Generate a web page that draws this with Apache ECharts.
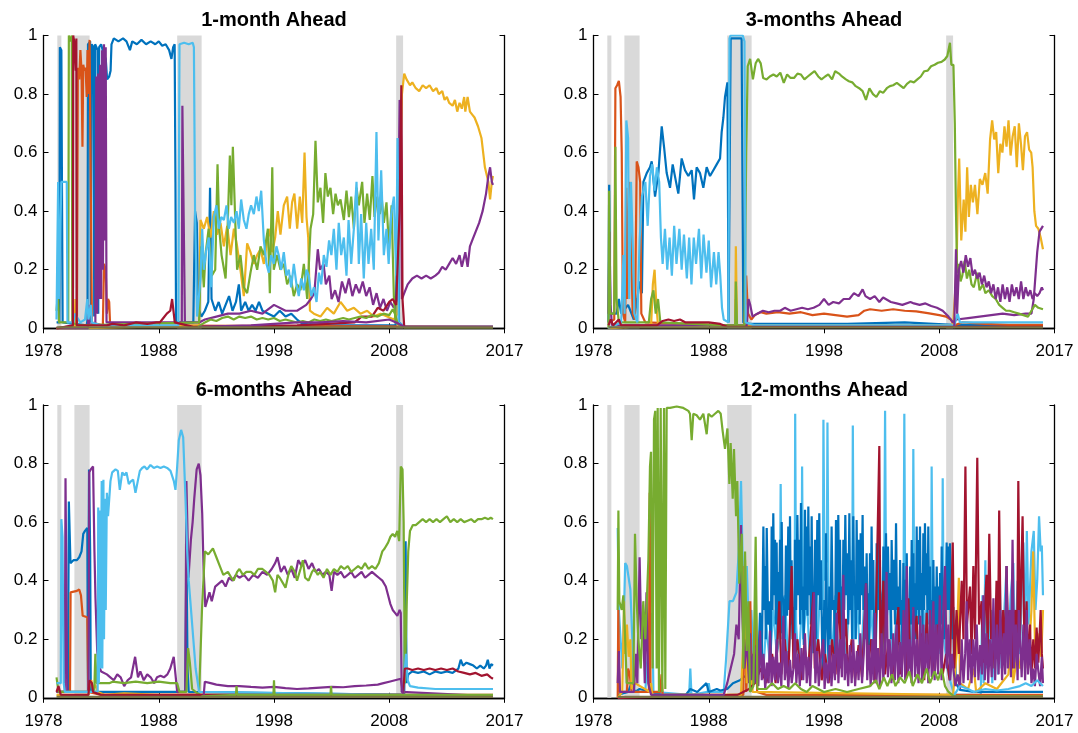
<!DOCTYPE html>
<html><head><meta charset="utf-8">
<script src="https://cdn.jsdelivr.net/npm/echarts@6/dist/echarts.min.js"></script>
<style>html,body{margin:0;padding:0;background:#fff}#c{width:1078px;height:733px}</style>
</head><body><div id="c"></div>
<script>
const titles = ['1-month Ahead','3-months Ahead','6-months Ahead','12-months Ahead'];
const xTickValues = [1978,1988,1998,2008,2018];
const xTickLabels = ['1978','1988','1998','2008','2017'];
const recessions = [[1979.2,1979.55],[1980.68,1982.0],[1989.6,1991.72],[2008.6,2009.2]];

// ---------- Panel 1: 1-month ahead (flat pairs: year, probability) ----------
const p1_blue = [1979.13,0.02,1979.38,0.02,1979.42,0.96,1979.55,0.95,1979.6,0.5,1979.66,0.02,1981.75,0.01,1981.82,0.03,1981.86,0.97,1982.05,0.98,1982.1,0.02,1982.18,0.97,1982.35,0.96,1982.4,0.04,1982.48,0.97,1982.7,0.95,1982.75,0.05,1982.83,0.96,1983.0,0.97,1983.2,0.94,1983.4,0.92,1983.52,0.85,1983.7,0.86,1983.82,0.88,1983.9,0.97,1984.1,0.99,1984.5,0.98,1984.9,0.99,1985.2,0.98,1985.5,0.95,1985.7,0.98,1986.1,0.97,1986.5,0.985,1986.9,0.97,1987.3,0.98,1987.7,0.97,1988.0,0.98,1988.3,0.965,1988.6,0.97,1988.9,0.95,1989.1,0.92,1989.25,0.96,1989.38,0.97,1989.45,0.5,1989.5,0.02,1991.0,0.02,1991.15,0.4,1991.3,0.36,1991.42,0.07,1991.7,0.04,1992.0,0.06,1992.3,0.09,1992.45,0.48,1992.58,0.1,1992.9,0.06,1993.2,0.09,1993.5,0.05,1993.8,0.08,1994.1,0.11,1994.4,0.06,1994.7,0.09,1994.95,0.15,1995.15,0.06,1995.5,0.09,1995.8,0.06,1996.1,0.08,1996.4,0.06,1996.7,0.09,1997.0,0.06,1997.5,0.05,1998.0,0.04,1998.5,0.06,1999.0,0.04,1999.5,0.05,2000.0,0.03,2000.5,0.015,2003,0.01,2006,0.01,2008.55,0.01,2008.75,0.45,2008.85,0.02,2009.3,0.005,2017.0,0.005];
const p1_orange = [1979.13,0.0,1980.9,0.01,1980.98,0.89,1981.1,0.85,1981.2,0.95,1981.3,0.88,1981.38,0.62,1981.45,0.9,1981.55,0.88,1981.65,0.89,1981.75,0.79,1981.82,0.95,1981.9,0.8,1982.0,0.985,1982.14,0.99,1982.2,0.02,1983.15,0.01,1983.25,0.22,1983.4,0.2,1983.5,0.05,1983.6,0.1,1983.7,0.09,1983.78,0.01,2017,0.005];
const p1_yellow = [1979.13,0.0,1980.7,0.0,1980.77,0.1,1980.82,0.0,1991.5,0.01,1991.62,0.37,1991.91,0.34,1992.2,0.38,1992.49,0.31,1992.78,0.4,1993.07,0.32,1993.36,0.36,1993.65,0.28,1993.94,0.35,1994.23,0.25,1994.52,0.34,1994.8,0.28,1995.09,0.2,1995.38,0.11,1995.67,0.29,1995.96,0.26,1996.25,0.22,1996.54,0.25,1996.83,0.27,1997.12,0.22,1997.41,0.3,1997.64,0.34,1997.85,0.26,1998.1,0.31,1998.33,0.4,1998.56,0.32,1998.85,0.42,1999.14,0.45,1999.37,0.34,1999.57,0.43,1999.77,0.46,2000.01,0.34,2000.24,0.45,2000.45,0.36,2000.65,0.6,2000.82,0.38,2000.97,0.31,2001.12,0.06,2001.46,0.05,2002.03,0.04,2002.61,0.07,2003.19,0.05,2003.77,0.09,2004.35,0.06,2004.93,0.07,2005.5,0.05,2006.08,0.06,2006.66,0.04,2007.24,0.05,2007.82,0.04,2008.4,0.03,2008.7,0.05,2008.9,0.5,2009.1,0.8,2009.3,0.87,2009.5,0.85,2009.8,0.83,2010.0,0.84,2010.3,0.82,2010.6,0.81,2010.9,0.83,2011.2,0.82,2011.5,0.83,2011.8,0.81,2012.1,0.82,2012.3,0.8,2012.6,0.81,2012.8,0.78,2013.0,0.79,2013.2,0.77,2013.5,0.76,2013.7,0.78,2013.9,0.74,2014.1,0.77,2014.3,0.75,2014.5,0.79,2014.6,0.74,2014.8,0.79,2015.0,0.74,2015.2,0.73,2015.4,0.72,2015.7,0.69,2016.0,0.65,2016.3,0.55,2016.6,0.5,2016.75,0.44,2016.9,0.5,2017.0,0.52];
const p1_purple = [1979.13,0.0,1981.85,0.0,1981.9,0.08,1982.0,0.01,1982.5,0.02,1982.58,0.86,1982.66,0.05,1982.75,0.87,1982.83,0.1,1982.91,0.9,1983.0,0.1,1983.08,0.95,1983.16,0.2,1983.25,0.97,1983.33,0.3,1983.4,0.96,1983.47,0.02,1990.0,0.02,1990.05,0.76,1990.22,0.76,1990.27,0.02,1991.5,0.02,1992.0,0.03,1993,0.04,1994,0.05,1995,0.05,1996,0.06,1997,0.05,1998,0.08,1999,0.06,2000,0.06,2000.8,0.08,2001.2,0.1,2001.5,0.12,2001.8,0.27,2002.0,0.2,2002.3,0.22,2002.5,0.15,2002.8,0.18,2003.0,0.1,2003.3,0.13,2003.6,0.09,2003.9,0.16,2004.2,0.12,2004.5,0.17,2004.8,0.11,2005.1,0.15,2005.4,0.12,2005.7,0.16,2006.0,0.11,2006.3,0.14,2006.6,0.08,2006.9,0.12,2007.2,0.07,2007.5,0.1,2007.8,0.06,2008.1,0.09,2008.4,0.07,2008.7,0.1,2008.9,0.78,2009.0,0.75,2009.1,0.1,2009.3,0.12,2009.6,0.15,2010.0,0.17,2010.4,0.18,2010.8,0.17,2011.2,0.18,2011.6,0.17,2012.0,0.18,2012.3,0.19,2012.6,0.21,2012.9,0.2,2013.2,0.22,2013.5,0.24,2013.8,0.22,2014.1,0.25,2014.3,0.21,2014.6,0.26,2014.8,0.21,2015.0,0.28,2015.2,0.3,2015.5,0.33,2015.8,0.36,2016.1,0.4,2016.4,0.46,2016.6,0.52,2016.75,0.55,2016.9,0.5,2017.0,0.49];
const p1_green = [1979.13,0.06,1979.25,0.12,1979.35,0.02,1980.15,0.02,1980.2,1.0,1980.32,0.98,1980.45,1.0,1980.5,0.02,1981.0,0.01,1991.5,0.02,1991.68,0.28,1991.91,0.14,1992.05,0.25,1992.33,0.34,1992.6,0.18,1992.9,0.2,1993.1,0.56,1993.25,0.34,1993.45,0.25,1993.8,0.17,1993.94,0.3,1994.17,0.59,1994.3,0.42,1994.43,0.62,1994.66,0.34,1994.8,0.2,1995.09,0.25,1995.38,0.14,1995.67,0.12,1995.96,0.19,1996.25,0.25,1996.54,0.2,1996.83,0.28,1997.12,0.25,1997.47,0.34,1997.64,0.12,1997.85,0.55,1997.98,0.2,1998.27,0.25,1998.56,0.2,1998.85,0.22,1999.14,0.15,1999.43,0.18,1999.72,0.11,2000.01,0.15,2000.3,0.13,2000.59,0.22,2000.88,0.1,2001.17,0.34,2001.4,0.39,2001.6,0.64,2001.8,0.43,2002.03,0.48,2002.26,0.36,2002.46,0.53,2002.67,0.45,2002.9,0.48,2003.13,0.39,2003.34,0.46,2003.54,0.42,2003.77,0.44,2004.06,0.37,2004.29,0.47,2004.5,0.38,2004.7,0.45,2004.93,0.34,2005.16,0.48,2005.36,0.42,2005.65,0.5,2005.85,0.36,2006.08,0.46,2006.31,0.37,2006.54,0.52,2006.72,0.38,2006.95,0.45,2007.18,0.39,2007.36,0.44,2007.53,0.36,2007.76,0.43,2007.99,0.27,2008.2,0.42,2008.4,0.11,2008.55,0.02,2009.3,0.003,2017,0.003];
const p1_lblue = [1979.13,0.03,1979.2,0.03,1979.27,0.5,1979.33,0.1,1979.5,0.1,1979.55,0.5,1980.02,0.5,1980.08,0.02,1980.6,0.02,1980.7,0.05,1981.2,0.02,1981.6,0.03,1981.8,0.1,1981.9,0.03,1982.1,0.08,1982.2,0.02,1983.0,0.01,1989.7,0.01,1989.8,0.97,1990.2,0.975,1990.6,0.97,1990.95,0.975,1991.05,0.96,1991.15,0.4,1991.33,0.04,1991.62,0.17,1991.77,0.34,1991.91,0.2,1992.14,0.27,1992.34,0.31,1992.55,0.14,1992.78,0.38,1993.01,0.42,1993.21,0.34,1993.42,0.38,1993.65,0.37,1993.88,0.42,1994.08,0.34,1994.28,0.38,1994.52,0.36,1994.75,0.4,1994.95,0.34,1995.15,0.44,1995.38,0.37,1995.61,0.34,1995.81,0.39,1996.01,0.42,1996.25,0.39,1996.48,0.45,1996.68,0.4,1996.89,0.47,1997.12,0.3,1997.35,0.22,1997.55,0.19,1997.75,0.25,1997.98,0.22,1998.21,0.28,1998.41,0.25,1998.62,0.2,1998.85,0.26,1999.08,0.18,1999.28,0.2,1999.49,0.14,1999.72,0.22,1999.95,0.15,2000.15,0.11,2000.36,0.17,2000.59,0.13,2000.82,0.2,2001.02,0.18,2001.23,0.11,2001.46,0.14,2001.69,0.09,2001.9,0.19,2002.1,0.15,2002.32,0.25,2002.55,0.21,2002.78,0.3,2002.98,0.25,2003.19,0.34,2003.42,0.2,2003.62,0.36,2003.83,0.25,2004.06,0.31,2004.29,0.18,2004.47,0.37,2004.7,0.22,2004.93,0.34,2005.16,0.5,2005.36,0.22,2005.56,0.39,2005.79,0.17,2006.0,0.36,2006.2,0.22,2006.43,0.34,2006.66,0.2,2006.89,0.67,2007.06,0.3,2007.3,0.54,2007.53,0.25,2007.76,0.34,2007.95,0.22,2008.17,0.39,2008.4,0.45,2008.6,0.18,2008.72,0.65,2008.82,0.02,2009.3,0.005,2017,0.005];
const p1_red = [1979.13,0.0,1980.55,0.01,1980.58,1.0,1980.7,0.97,1980.8,0.88,1980.85,0.99,1980.88,0.01,1983.5,0.01,1984,0.015,1985,0.01,1986,0.02,1987,0.015,1987.8,0.02,1988.1,0.02,1988.4,0.035,1988.7,0.05,1989.0,0.06,1989.16,0.1,1989.31,0.1,1989.39,0.02,1991,0.005,2000,0.01,2005,0.02,2005.6,0.04,2006.5,0.04,2007,0.07,2007.5,0.06,2008,0.09,2008.3,0.1,2008.6,0.08,2008.9,0.4,2009.05,0.83,2009.15,0.1,2009.3,0.005,2017,0.005];
const p1_green2 = [1991.4,0.005,1992,0.02,1992.5,0.03,1993,0.025,1993.5,0.035,1994,0.04,1994.5,0.03,1995,0.04,1995.5,0.035,1996,0.04,1996.5,0.03,1997,0.035,1997.5,0.03,1998,0.035,1998.5,0.025,1999,0.03,1999.5,0.025,2000,0.02,2000.5,0.025,2001,0.02,2001.5,0.03,2002,0.025,2002.5,0.03,2003,0.025,2003.5,0.03,2004,0.035,2004.5,0.03,2005,0.035,2005.5,0.04,2006,0.035,2006.5,0.045,2007,0.04,2007.5,0.05,2008,0.045,2008.3,0.065,2008.5,0.05,2008.7,0.02,2009,0.003];
const p1_purple2 = [1991.5,0.005,1996,0.01,1998,0.015,2000,0.02,2002,0.02,2004,0.025,2006,0.02,2008,0.03,2008.6,0.02,2009.3,0.005,2017,0.005];

// ---------- Panel 2: 3-months ahead ----------
const p2_blue = [1979.3,0.02,1979.36,0.49,1979.45,0.05,1980.0,0.05,1980.2,0.1,1980.4,0.05,1981.0,0.08,1981.5,0.03,1981.8,0.1,1982.0,0.16,1982.2,0.12,1982.33,0.5,1982.62,0.53,1982.9,0.55,1983.05,0.57,1983.34,0.45,1983.63,0.53,1983.92,0.69,1984.12,0.62,1984.35,0.53,1984.64,0.48,1984.87,0.56,1985.16,0.5,1985.36,0.46,1985.65,0.58,1985.94,0.54,1986.23,0.52,1986.52,0.54,1986.72,0.44,1986.95,0.55,1987.24,0.53,1987.53,0.48,1987.82,0.55,1988.11,0.52,1988.4,0.54,1988.69,0.56,1988.98,0.58,1989.12,0.67,1989.27,0.72,1989.41,0.79,1989.62,0.84,1989.72,0.02,1989.9,0.99,1990.85,0.99,1991.0,0.02,1991.5,0.015,2000,0.015,2005,0.02,2009.2,0.012,2017,0.01];
const p2_orange = [1979.3,0.02,1979.8,0.03,1979.9,0.82,1980.05,0.83,1980.2,0.845,1980.35,0.79,1980.45,0.6,1980.55,0.05,1980.75,0.02,1980.85,0.48,1980.95,0.1,1981.1,0.5,1981.25,0.3,1981.4,0.05,1981.6,0.03,1981.75,0.57,1981.9,0.55,1982.05,0.5,1982.15,0.05,1982.5,0.02,1989.5,0.01,1990.3,0.01,1990.35,0.1,1990.45,0.01,1991.1,0.01,1991.25,0.18,1991.4,0.05,1991.7,0.03,1992.0,0.045,1992.5,0.055,1993,0.05,1994,0.055,1995,0.05,1996,0.055,1997,0.045,1998,0.05,1999,0.045,2000,0.04,2001,0.045,2001.5,0.06,2002,0.065,2003,0.06,2004,0.065,2005,0.06,2006,0.058,2007,0.052,2008,0.045,2008.6,0.04,2009.0,0.03,2009.3,0.01,2010,0.02,2012,0.015,2014,0.012,2017,0.012];
const p2_yellow = [1979.3,0.0,1983.0,0.01,1983.15,0.15,1983.3,0.2,1983.45,0.08,1983.6,0.01,1990.3,0.01,1990.35,0.28,1990.45,0.01,2009.2,0.01,2009.5,0.2,2009.61,0.44,2009.73,0.58,2009.91,0.3,2010.12,0.44,2010.27,0.33,2010.42,0.55,2010.57,0.38,2010.74,0.49,2010.92,0.43,2011.1,0.49,2011.31,0.39,2011.52,0.51,2011.75,0.49,2011.99,0.53,2012.2,0.46,2012.41,0.645,2012.59,0.71,2012.77,0.645,2012.94,0.67,2013.12,0.53,2013.3,0.63,2013.48,0.6,2013.66,0.69,2013.84,0.62,2014.01,0.71,2014.19,0.59,2014.37,0.656,2014.55,0.69,2014.73,0.55,2014.91,0.7,2015.09,0.63,2015.26,0.54,2015.44,0.656,2015.62,0.67,2015.8,0.61,2015.98,0.6,2016.1,0.55,2016.25,0.4,2016.4,0.35,2016.6,0.34,2016.8,0.31,2017.0,0.27];
const p2_purple = [1979.3,0.05,1979.38,0.33,1979.48,0.08,1979.6,0.01,1991.3,0.01,1991.45,0.1,1991.6,0.08,1991.8,0.04,1992.2,0.05,1992.7,0.06,1993.2,0.055,1993.7,0.06,1994.2,0.06,1994.6,0.07,1995.1,0.06,1995.6,0.065,1996.1,0.07,1996.6,0.065,1997.1,0.07,1997.6,0.08,1998.0,0.1,1998.4,0.08,1998.8,0.09,1999.3,0.085,1999.7,0.1,2000.2,0.1,2000.6,0.12,2001.0,0.11,2001.35,0.133,2001.6,0.11,2002.0,0.1,2002.4,0.11,2002.8,0.09,2003.13,0.105,2003.8,0.09,2004.3,0.085,2004.8,0.08,2005.5,0.09,2005.8,0.085,2006.3,0.08,2006.8,0.085,2007.3,0.076,2007.8,0.07,2008.3,0.06,2008.8,0.04,2009.2,0.02,2009.5,0.03,2010.5,0.035,2011.5,0.04,2012.5,0.045,2013.5,0.05,2014.5,0.045,2015.5,0.05,2016.0,0.05,2016.2,0.1,2016.5,0.26,2016.7,0.33,2017.0,0.35];
const p2_purple2 = [2009.3,0.0,2009.45,0.27,2009.55,0.05,2009.7,0.2,2009.9,0.23,2010.1,0.19,2010.3,0.25,2010.5,0.21,2010.7,0.24,2010.9,0.18,2011.1,0.2,2011.3,0.17,2011.5,0.19,2011.7,0.15,2011.9,0.18,2012.1,0.14,2012.3,0.16,2012.5,0.12,2012.7,0.15,2012.9,0.1,2013.1,0.14,2013.3,0.09,2013.5,0.15,2013.7,0.1,2013.9,0.14,2014.1,0.09,2014.3,0.15,2014.5,0.11,2014.7,0.14,2014.9,0.1,2015.1,0.16,2015.3,0.1,2015.5,0.14,2015.7,0.11,2015.9,0.13,2016.1,0.1,2016.3,0.12,2016.5,0.11,2016.7,0.12,2016.9,0.14,2017.0,0.13];
const p2_green = [1979.3,0.0,1979.35,0.47,1979.45,0.05,1979.8,0.05,1979.9,0.62,1980.0,0.1,1980.2,0.02,1982.8,0.02,1983.0,0.1,1983.2,0.13,1983.4,0.05,1983.6,0.1,1983.8,0.02,1989.5,0.01,1990.3,0.01,1990.35,0.16,1990.45,0.01,1991.1,0.01,1991.25,0.6,1991.38,0.895,1991.59,0.92,1991.83,0.85,1992.07,0.905,1992.28,0.92,1992.51,0.905,1992.72,0.855,1993.02,0.85,1993.3,0.86,1993.61,0.867,1993.9,0.86,1994.21,0.873,1994.51,0.838,1994.8,0.867,1995.1,0.855,1995.4,0.855,1995.7,0.87,1995.99,0.867,1996.3,0.85,1996.59,0.86,1996.9,0.87,1997.18,0.878,1997.5,0.86,1997.78,0.85,1998.1,0.86,1998.37,0.867,1998.7,0.85,1998.97,0.878,1999.3,0.87,1999.56,0.86,1999.9,0.85,2000.16,0.844,2000.45,0.84,2000.75,0.827,2001.05,0.82,2001.35,0.81,2001.64,0.78,2001.94,0.82,2002.25,0.8,2002.54,0.79,2002.85,0.81,2003.13,0.804,2003.45,0.82,2003.72,0.827,2004.0,0.83,2004.32,0.838,2004.6,0.83,2004.91,0.82,2005.2,0.835,2005.51,0.844,2005.8,0.84,2006.1,0.85,2006.4,0.86,2006.7,0.878,2007.0,0.88,2007.29,0.895,2007.6,0.9,2007.89,0.907,2008.2,0.91,2008.48,0.918,2008.7,0.93,2008.93,0.975,2009.05,0.9,2009.23,0.9,2009.35,0.7,2009.45,0.4,2009.55,0.19,2009.7,0.22,2009.85,0.16,2010.0,0.18,2010.2,0.23,2010.4,0.17,2010.6,0.2,2010.8,0.15,2011.0,0.14,2011.3,0.19,2011.5,0.13,2011.8,0.15,2012.0,0.12,2012.3,0.13,2012.6,0.11,2012.9,0.1,2013.2,0.08,2013.5,0.07,2013.8,0.06,2014.1,0.06,2014.5,0.055,2014.9,0.05,2015.3,0.045,2015.7,0.04,2016.0,0.06,2016.3,0.08,2016.6,0.07,2017.0,0.065];
const p2_lblue = [1979.3,0.0,1980.4,0.02,1980.6,0.25,1980.7,0.05,1980.85,0.71,1981.0,0.65,1981.1,0.1,1981.25,0.5,1981.4,0.3,1981.55,0.05,1981.8,0.02,1982.0,0.3,1982.2,0.45,1982.5,0.5,1982.7,0.35,1982.9,0.52,1983.1,0.56,1983.3,0.47,1983.5,0.55,1983.7,0.5,1983.85,0.31,1984.0,0.22,1984.2,0.34,1984.4,0.2,1984.6,0.31,1984.8,0.18,1985.0,0.35,1985.2,0.22,1985.45,0.34,1985.65,0.2,1985.85,0.32,1986.1,0.17,1986.3,0.31,1986.5,0.15,1986.7,0.31,1986.9,0.22,1987.15,0.34,1987.35,0.17,1987.55,0.32,1987.8,0.19,1988.0,0.3,1988.2,0.14,1988.45,0.26,1988.65,0.15,1988.85,0.26,1989.0,0.18,1989.15,0.07,1989.3,0.03,1989.7,0.02,1989.8,0.99,1989.9,1.0,1990.95,1.0,1991.1,0.98,1991.2,0.02,1992,0.01,2009.3,0.01,2009.6,0.05,2009.8,0.02,2017,0.02];
const p2_red = [1979.3,0.01,1979.5,0.03,1979.7,0.01,1980.2,0.03,1980.4,0.01,1983.5,0.01,1984.0,0.025,1984.5,0.03,1985,0.025,1985.5,0.03,1986,0.02,1987,0.02,1988,0.02,1989,0.015,1989.6,0.005,2017,0.005];

// ---------- Panel 3: 6-months ahead ----------
const p3_blue = [1979.13,0.02,1980.12,0.02,1980.2,0.67,1980.34,0.46,1980.6,0.47,1980.9,0.47,1981.1,0.48,1981.3,0.5,1981.45,0.56,1981.6,0.57,1981.8,0.58,1981.86,0.02,1981.95,0.78,1982.05,0.5,1982.1,0.02,1990.3,0.02,1990.4,0.5,1990.5,0.1,1990.6,0.02,2009.3,0.01,2009.42,0.535,2009.5,0.05,2009.65,0.08,2010,0.09,2010.5,0.085,2011,0.09,2011.5,0.08,2012,0.09,2012.5,0.085,2013,0.09,2013.5,0.085,2014,0.1,2014.2,0.13,2014.4,0.11,2014.7,0.12,2015,0.115,2015.3,0.11,2015.6,0.1,2015.9,0.11,2016.2,0.1,2016.4,0.11,2016.55,0.13,2016.7,0.1,2016.85,0.115,2017,0.11];
const p3_orange = [1979.13,0.02,1980.3,0.02,1980.35,0.36,1980.9,0.365,1981.1,0.37,1981.25,0.35,1981.4,0.28,1981.8,0.275,1981.88,0.02,1983,0.01,2017,0.01];
const p3_yellow = [1979.13,0.01,1981.9,0.01,1982.0,0.05,1982.15,0.06,1982.3,0.03,1982.5,0.045,1982.7,0.02,1983.3,0.01,1985,0.015,1988,0.01,1991,0.01,2017,0.008];
const p3_purple = [1979.13,0.02,1979.85,0.02,1979.91,0.75,1980.0,0.3,1980.06,0.02,1981.9,0.02,1981.97,0.77,1982.1,0.78,1982.3,0.79,1982.42,0.5,1982.51,0.34,1982.66,0.16,1982.8,0.11,1983.0,0.09,1983.5,0.08,1983.8,0.07,1984.1,0.06,1984.4,0.08,1984.7,0.07,1985.0,0.04,1985.3,0.06,1985.6,0.07,1985.95,0.14,1986.2,0.07,1986.4,0.09,1986.7,0.06,1987.0,0.08,1987.3,0.07,1987.6,0.05,1987.85,0.07,1988.15,0.075,1988.45,0.07,1988.75,0.08,1989.0,0.1,1989.3,0.14,1989.45,0.08,1989.6,0.02,1990.3,0.02,1990.4,0.74,1990.58,0.41,1990.79,0.54,1990.94,0.6,1991.08,0.68,1991.29,0.78,1991.47,0.8,1991.62,0.76,1991.77,0.63,1991.89,0.44,1992.04,0.31,1992.2,0.31,1992.4,0.36,1992.6,0.33,1992.9,0.38,1993.2,0.39,1993.5,0.4,1993.8,0.38,1994.1,0.41,1994.4,0.4,1994.7,0.42,1995.0,0.41,1995.4,0.42,1995.8,0.4,1996.2,0.42,1996.6,0.41,1997.0,0.43,1997.4,0.42,1997.8,0.44,1998.1,0.46,1998.3,0.48,1998.6,0.43,1998.9,0.45,1999.2,0.42,1999.5,0.44,1999.8,0.41,2000.1,0.47,2000.4,0.45,2000.7,0.47,2001.0,0.44,2001.3,0.46,2001.6,0.43,2001.9,0.44,2002.2,0.42,2002.5,0.43,2002.8,0.42,2003.0,0.365,2003.2,0.43,2003.5,0.42,2003.8,0.43,2004.1,0.41,2004.4,0.42,2004.7,0.43,2005.0,0.41,2005.3,0.42,2005.6,0.43,2005.9,0.41,2006.2,0.42,2006.5,0.43,2006.8,0.42,2007.1,0.41,2007.4,0.4,2007.7,0.38,2007.9,0.35,2008.1,0.32,2008.3,0.3,2008.5,0.29,2008.7,0.28,2008.9,0.3,2009.0,0.29,2009.08,0.02,2017,0.005];
const p3_purple2 = [1991.9,0.01,1992.0,0.055,1992.5,0.05,1993,0.045,1994,0.04,1995,0.04,1996,0.037,1997,0.035,1998,0.037,1999,0.033,2000,0.03,2001,0.032,2002,0.035,2003,0.037,2004,0.036,2005,0.04,2006,0.042,2007,0.045,2007.5,0.05,2008,0.055,2008.5,0.06,2009.0,0.065,2009.2,0.01,2017,0.008];
const p3_green = [1979.13,0.07,1979.3,0.02,1982.4,0.02,1982.5,0.15,1982.6,0.05,1983.7,0.05,1984,0.055,1985,0.05,1986,0.055,1987,0.05,1988,0.055,1989,0.05,1989.6,0.05,1989.8,0.02,1990.4,0.02,1990.55,0.17,1990.7,0.12,1990.9,0.03,1991.5,0.01,1991.75,0.3,1992.0,0.5,1992.3,0.49,1992.5,0.5,1992.7,0.51,1993.0,0.48,1993.3,0.45,1993.6,0.42,1994.0,0.43,1994.3,0.41,1994.5,0.4,1994.8,0.43,1995.0,0.44,1995.3,0.42,1995.6,0.43,1996.0,0.43,1996.3,0.42,1996.6,0.44,1997.0,0.44,1997.3,0.43,1997.6,0.42,1997.9,0.4,1998.1,0.36,1998.3,0.42,1998.5,0.41,1998.8,0.39,1999.0,0.376,1999.3,0.43,1999.5,0.45,1999.8,0.43,2000.0,0.4,2000.3,0.44,2000.5,0.47,2000.7,0.41,2001.0,0.4,2001.3,0.43,2001.5,0.44,2001.8,0.42,2002.0,0.43,2002.3,0.41,2002.6,0.44,2002.9,0.42,2003.2,0.44,2003.5,0.43,2003.8,0.45,2004.1,0.44,2004.4,0.45,2004.7,0.43,2005.0,0.44,2005.3,0.45,2005.6,0.44,2005.9,0.46,2006.2,0.44,2006.5,0.45,2006.8,0.44,2007.1,0.46,2007.4,0.5,2007.6,0.51,2007.9,0.53,2008.1,0.55,2008.3,0.56,2008.5,0.55,2008.7,0.57,2008.86,0.535,2009.0,0.79,2009.15,0.78,2009.25,0.6,2009.35,0.05,2009.5,0.3,2009.65,0.5,2009.8,0.57,2010.05,0.59,2010.3,0.59,2010.6,0.6,2010.9,0.61,2011.2,0.6,2011.5,0.61,2011.8,0.6,2012.1,0.61,2012.4,0.6,2012.7,0.61,2013.0,0.62,2013.3,0.6,2013.6,0.61,2013.9,0.6,2014.2,0.61,2014.5,0.6,2014.8,0.605,2015.1,0.61,2015.4,0.6,2015.7,0.61,2016.0,0.61,2016.3,0.615,2016.6,0.61,2016.8,0.615,2017.0,0.61];
const p3_green2 = [1991.7,0.005,1994.7,0.01,1994.75,0.04,1994.8,0.01,1997.95,0.01,1998.0,0.06,1998.05,0.01,2002.9,0.01,2002.95,0.04,2003.0,0.01,2009,0.01,2017,0.01];
const p3_lblue = [1979.13,0.05,1979.5,0.05,1979.55,0.61,1979.65,0.55,1979.75,0.05,1979.85,0.02,1982.7,0.02,1982.75,0.65,1982.8,0.05,1982.9,0.64,1982.95,0.1,1983.05,0.74,1983.1,0.1,1983.2,0.745,1983.25,0.2,1983.35,0.68,1983.4,0.3,1983.5,0.7,1983.6,0.62,1983.81,0.74,1983.96,0.77,1984.25,0.78,1984.45,0.775,1984.62,0.71,1984.83,0.77,1985.03,0.76,1985.2,0.77,1985.4,0.73,1985.6,0.74,1985.78,0.745,1985.98,0.7,1986.18,0.74,1986.36,0.775,1986.56,0.785,1986.76,0.79,1986.99,0.78,1987.28,0.795,1987.57,0.785,1987.86,0.79,1988.15,0.785,1988.44,0.79,1988.73,0.785,1989.02,0.775,1989.31,0.74,1989.45,0.71,1989.6,0.79,1989.74,0.88,1989.94,0.915,1990.12,0.89,1990.32,0.68,1990.47,0.5,1990.6,0.4,1990.8,0.3,1991.0,0.2,1991.2,0.1,1991.5,0.02,2009.2,0.01,2009.45,0.15,2009.6,0.06,2009.8,0.04,2010.5,0.035,2012,0.03,2014,0.03,2017,0.03];
const p3_red = [1979.13,0.02,1979.3,0.04,1979.5,0.01,1981.9,0.01,1982.0,0.06,1982.2,0.05,1982.3,0.02,1983,0.01,2009.2,0.01,2009.35,0.1,2009.6,0.1,2010,0.095,2010.5,0.1,2011,0.095,2011.5,0.1,2012,0.095,2012.5,0.1,2013,0.095,2013.5,0.1,2014,0.09,2014.5,0.085,2015,0.08,2015.5,0.085,2016,0.075,2016.5,0.08,2016.8,0.07,2017,0.065];

// ---------- Panel 4: 12-months ahead ----------
const p4_blue = [1980.1,0.01,1981,0.02,1981.3,0.05,1981.6,0.02,1982,0.03,1983,0.02,1984,0.01,1985,0.01,1986,0.01,1986.4,0.03,1987,0.02,1987.8,0.05,1988,0.02,1988.7,0.03,1989,0.025,1989.6,0.03,1990.1,0.05,1990.7,0.06,1991.0,0.07,1991.5,0.08,1992,0.1,1992.3,0.12,1992.45,0.29,1992.6,0.1,1992.74,0.585,1992.82,0.3,1992.88,0.45,1992.95,0.2,1993.03,0.58,1993.15,0.25,1993.26,0.33,1993.38,0.15,1993.46,0.585,1993.53,0.3,1993.6,0.63,1993.68,0.35,1993.75,0.54,1993.82,0.25,1993.89,0.53,1993.96,0.2,1994.04,0.43,1994.11,0.3,1994.18,0.54,1994.26,0.22,1994.33,0.6,1994.4,0.35,1994.47,0.33,1994.58,0.15,1994.7,0.52,1994.8,0.28,1994.9,0.585,1994.98,0.3,1995.05,0.62,1995.12,0.25,1995.19,0.47,1995.27,0.2,1995.34,0.31,1995.41,0.12,1995.48,0.54,1995.58,0.3,1995.69,0.624,1995.78,0.35,1995.86,0.54,1995.93,0.25,1996.0,0.665,1996.08,0.3,1996.15,0.38,1996.25,0.18,1996.35,0.642,1996.42,0.3,1996.5,0.585,1996.57,0.28,1996.64,0.653,1996.72,0.35,1996.79,0.517,1996.86,0.25,1996.93,0.62,1997.0,0.3,1997.08,0.152,1997.15,0.3,1997.22,0.54,1997.32,0.2,1997.42,0.607,1997.5,0.35,1997.59,0.63,1997.66,0.3,1997.74,0.47,1997.81,0.25,1997.88,0.084,1997.95,0.2,1998.03,0.334,1998.1,0.15,1998.17,0.562,1998.25,0.3,1998.32,0.221,1998.39,0.12,1998.46,0.38,1998.56,0.2,1998.66,0.585,1998.76,0.3,1998.87,0.334,1998.95,0.15,1999.04,0.607,1999.14,0.3,1999.24,0.624,1999.31,0.35,1999.39,0.54,1999.46,0.25,1999.53,0.38,1999.6,0.2,1999.68,0.54,1999.76,0.3,1999.85,0.624,1999.93,0.35,2000.02,0.494,2000.1,0.25,2000.2,0.63,2000.27,0.3,2000.34,0.47,2000.44,0.2,2000.54,0.62,2000.61,0.35,2000.69,0.38,2000.76,0.2,2000.83,0.607,2000.92,0.3,2001.01,0.54,2001.1,0.25,2001.18,0.562,2001.26,0.35,2001.35,0.624,2001.42,0.3,2001.5,0.448,2001.6,0.2,2001.7,0.494,2001.77,0.25,2001.84,0.357,2001.92,0.18,2001.99,0.494,2002.06,0.3,2002.13,0.585,2002.2,0.3,2002.28,0.471,2002.35,0.2,2002.42,0.289,2002.5,0.15,2002.57,0.528,2002.64,0.3,2002.71,0.585,2002.78,0.3,2002.86,0.471,2002.93,0.2,2003.0,0.334,2003.08,0.15,2003.15,0.517,2003.26,0.3,2003.38,0.562,2003.46,0.25,2003.55,0.517,2003.64,0.3,2003.73,0.426,2003.8,0.2,2003.87,0.539,2003.97,0.3,2004.07,0.471,2004.16,0.25,2004.25,0.596,2004.33,0.3,2004.42,0.38,2004.51,0.18,2004.6,0.471,2004.67,0.25,2004.74,0.334,2004.81,0.15,2004.89,0.46,2004.96,0.25,2005.03,0.403,2005.1,0.2,2005.18,0.494,2005.25,0.25,2005.32,0.221,2005.4,0.12,2005.47,0.448,2005.54,0.25,2005.61,0.539,2005.68,0.3,2005.75,0.494,2005.82,0.25,2005.9,0.391,2005.97,0.2,2006.04,0.585,2006.11,0.3,2006.19,0.539,2006.26,0.25,2006.33,0.585,2006.4,0.3,2006.48,0.426,2006.55,0.2,2006.62,0.562,2006.69,0.3,2006.76,0.596,2006.84,0.35,2006.91,0.494,2006.98,0.25,2007.05,0.585,2007.12,0.3,2007.2,0.448,2007.27,0.2,2007.34,0.334,2007.41,0.15,2007.49,0.471,2007.56,0.25,2007.63,0.38,2007.7,0.2,2007.78,0.448,2007.85,0.25,2007.92,0.38,2008.0,0.2,2008.07,0.426,2008.14,0.25,2008.21,0.517,2008.28,0.3,2008.36,0.38,2008.43,0.2,2008.5,0.448,2008.57,0.3,2008.64,0.53,2008.71,0.3,2008.79,0.517,2008.86,0.3,2008.93,0.528,2009.0,0.25,2009.08,0.38,2009.15,0.2,2009.22,0.31,2009.29,0.1,2009.36,0.22,2009.43,0.05,2009.51,0.05,2009.8,0.027,2011,0.02,2013,0.02,2015,0.02,2017,0.02];
const p4_orange = [1980.1,0.0,1980.15,0.3,1980.25,0.02,1980.9,0.02,1981.0,0.1,1981.15,0.08,1981.3,0.02,1982.8,0.02,1982.88,0.7,1982.95,0.02,1983.8,0.02,1983.9,0.08,1984.0,0.01,1991.0,0.01,1991.1,0.45,1991.25,0.02,1991.6,0.33,1991.75,0.02,1992.1,0.29,1992.2,0.02,1993,0.01,2017,0.01];
const p4_yellow = [1980.1,0.0,1980.5,0.02,1980.65,0.33,1980.75,0.15,1980.9,0.25,1981.05,0.14,1981.2,0.2,1981.3,0.03,1981.6,0.05,1982.9,0.02,1983.0,0.05,1983.1,0.01,1990.8,0.01,1991.0,0.2,1991.15,0.47,1991.3,0.05,1991.6,0.15,1991.8,0.02,2009.2,0.01,2009.5,0.15,2009.7,0.41,2009.8,0.05,2010.5,0.03,2011,0.1,2011.2,0.02,2012,0.05,2013,0.03,2014,0.08,2014.3,0.25,2014.4,0.05,2014.8,0.15,2015,0.1,2015.5,0.2,2015.7,0.1,2016.0,0.3,2016.15,0.5,2016.3,0.2,2016.5,0.14,2016.7,0.22,2016.85,0.14,2017.0,0.3];
const p4_purple = [1980.1,0.05,1980.2,0.16,1980.3,0.02,1981.5,0.02,1981.7,0.15,1981.8,0.05,1982.0,0.48,1982.15,0.2,1982.3,0.25,1982.45,0.05,1982.6,0.36,1982.75,0.05,1983.0,0.01,1989.3,0.01,1989.6,0.05,1989.9,0.1,1990.2,0.15,1990.4,0.25,1990.6,0.2,1990.8,0.59,1990.9,0.3,1991.1,0.1,1991.3,0.2,1991.5,0.05,1991.58,0.22,1991.7,0.06,1991.85,0.15,1992.0,0.05,1992.15,0.18,1992.3,0.04,1992.45,0.23,1992.6,0.06,1992.75,0.15,1992.9,0.03,1993.05,0.12,1993.2,0.05,1993.32,0.23,1993.45,0.04,1993.6,0.14,1993.75,0.06,1993.89,0.2,1994.0,0.05,1994.15,0.12,1994.3,0.04,1994.47,0.28,1994.6,0.06,1994.75,0.16,1994.9,0.03,1995.05,0.13,1995.2,0.05,1995.35,0.1,1995.48,0.22,1995.6,0.05,1995.75,0.15,1995.9,0.04,1996.05,0.17,1996.2,0.06,1996.35,0.22,1996.5,0.05,1996.65,0.14,1996.8,0.04,1996.95,0.2,1997.13,0.36,1997.25,0.05,1997.4,0.16,1997.55,0.04,1997.7,0.13,1997.94,0.2,1998.05,0.03,1998.2,0.12,1998.35,0.05,1998.5,0.18,1998.65,0.04,1998.8,0.15,1998.95,0.06,1999.1,0.29,1999.25,0.05,1999.4,0.2,1999.55,0.07,1999.68,0.42,1999.8,0.06,1999.95,0.15,2000.1,0.04,2000.25,0.18,2000.4,0.05,2000.54,0.2,2000.7,0.04,2000.85,0.16,2001.0,0.06,2001.15,0.22,2001.3,0.05,2001.45,0.15,2001.64,0.39,2001.75,0.06,2001.9,0.18,2002.05,0.04,2002.2,0.2,2002.3,0.06,2002.42,0.29,2002.55,0.05,2002.7,0.17,2002.85,0.04,2003.0,0.22,2003.15,0.06,2003.3,0.18,2003.43,0.43,2003.55,0.07,2003.7,0.2,2003.85,0.05,2004.01,0.22,2004.15,0.06,2004.3,0.25,2004.45,0.05,2004.6,0.19,2004.75,0.07,2004.9,0.3,2005.05,0.06,2005.18,0.45,2005.3,0.08,2005.45,0.2,2005.6,0.05,2005.75,0.31,2005.9,0.07,2006.05,0.2,2006.2,0.05,2006.35,0.28,2006.5,0.06,2006.62,0.25,2006.75,0.08,2006.9,0.22,2007.05,0.05,2007.2,0.3,2007.35,0.07,2007.49,0.33,2007.6,0.06,2007.75,0.25,2007.9,0.08,2008.05,0.35,2008.2,0.06,2008.35,0.3,2008.5,0.45,2008.65,0.1,2008.8,0.25,2008.95,0.06,2009.1,0.15,2009.22,0.1,2009.4,0.04,2009.6,0.08,2009.8,0.03,2009.95,0.2,2010.1,0.05,2010.25,0.15,2010.38,0.33,2010.5,0.06,2010.65,0.2,2010.8,0.05,2010.96,0.2,2011.1,0.07,2011.25,0.25,2011.4,0.06,2011.55,0.18,2011.7,0.08,2011.83,0.35,2011.95,0.06,2012.1,0.22,2012.25,0.05,2012.4,0.2,2012.55,0.07,2012.7,0.34,2012.85,0.06,2013.0,0.25,2013.15,0.08,2013.3,0.3,2013.45,0.06,2013.6,0.22,2013.72,0.08,2013.84,0.45,2013.95,0.1,2014.1,0.3,2014.22,0.07,2014.36,0.54,2014.5,0.1,2014.65,0.25,2014.8,0.06,2014.9,0.3,2015.01,0.2,2015.15,0.07,2015.3,0.25,2015.45,0.06,2015.58,0.3,2015.7,0.08,2015.85,0.2,2016.0,0.05,2016.16,0.1,2016.3,0.04,2016.45,0.15,2016.6,0.09,2016.75,0.04,2016.9,0.14,2017.0,0.05];
const p4_green = [1980.1,0.3,1980.16,0.64,1980.24,0.33,1980.45,0.3,1980.59,0.35,1980.73,0.22,1980.88,0.05,1981.46,0.05,1981.6,0.56,1981.75,0.33,1981.89,0.2,1982.1,0.1,1982.32,0.33,1982.5,0.2,1982.76,0.47,1982.9,0.79,1982.99,0.84,1983.13,0.1,1983.25,0.95,1983.36,0.98,1983.48,0.1,1983.57,0.99,1983.68,0.02,1983.83,0.99,1983.97,0.02,1984.12,0.99,1984.23,0.03,1984.35,0.99,1984.64,0.99,1985.22,0.995,1985.79,0.99,1986.23,0.98,1986.37,0.97,1986.52,0.88,1986.66,0.97,1986.95,0.965,1987.24,0.95,1987.53,0.97,1987.82,0.9,1987.97,0.97,1988.25,0.96,1988.54,0.97,1988.83,0.98,1989.04,0.97,1989.21,0.91,1989.41,0.85,1989.62,0.92,1989.79,0.73,1989.9,0.87,1990.08,0.68,1990.19,0.85,1990.37,0.62,1990.48,0.74,1990.65,0.39,1990.86,0.56,1991.0,0.1,1991.15,0.5,1991.29,0.16,1991.44,0.33,1991.58,0.02,1991.87,0.04,1992.07,0.55,1992.22,0.03,1993,0.03,1993.5,0.05,1994,0.03,1994.5,0.04,1995,0.03,1995.5,0.05,1996,0.03,1996.5,0.02,1997,0.04,1998,0.02,1999,0.03,2000,0.02,2001,0.03,2002,0.04,2002.5,0.06,2002.8,0.03,2003.2,0.07,2003.5,0.04,2003.9,0.08,2004.2,0.04,2004.6,0.07,2005.0,0.05,2005.4,0.09,2005.7,0.04,2006.1,0.08,2006.5,0.05,2006.9,0.1,2007.2,0.05,2007.6,0.09,2007.9,0.06,2008.2,0.1,2008.5,0.04,2008.8,0.02,2009.3,0.005,2017,0.005];
const p4_lblue = [1980.1,0.58,1980.2,0.3,1980.5,0.1,1980.65,0.3,1980.75,0.46,1980.9,0.45,1981.05,0.41,1981.2,0.37,1981.35,0.22,1981.55,0.02,1982.5,0.02,1982.6,0.1,1983.1,0.29,1983.2,0.02,1986.3,0.01,1986.4,0.1,1986.5,0.01,1987.9,0.02,1988.0,0.05,1988.1,0.02,1989.3,0.02,1989.5,0.13,1989.8,0.33,1990.1,0.33,1990.4,0.36,1990.6,0.5,1990.8,0.74,1990.95,0.45,1991.1,0.25,1991.3,0.45,1991.5,0.2,1991.7,0.3,1991.9,0.1,1992.1,0.1,1992.4,0.2,1992.7,0.08,1993.0,0.25,1993.3,0.12,1993.6,0.3,1993.9,0.15,1994.15,0.2,1994.24,0.73,1994.35,0.2,1994.6,0.35,1994.9,0.12,1995.2,0.3,1995.45,0.2,1995.5,0.97,1995.58,0.25,1995.8,0.1,1996.05,0.3,1996.1,0.79,1996.2,0.2,1996.5,0.35,1996.8,0.1,1997.1,0.3,1997.4,0.15,1997.7,0.4,1997.9,0.3,1997.95,0.95,1998.05,0.4,1998.25,0.5,1998.3,0.94,1998.4,0.3,1998.7,0.15,1999.0,0.35,1999.3,0.1,1999.6,0.3,1999.9,0.12,2000.2,0.35,2000.45,0.3,2000.5,0.93,2000.6,0.2,2000.9,0.3,2001.2,0.1,2001.5,0.35,2001.8,0.15,2002.1,0.3,2002.4,0.1,2002.7,0.4,2003.2,0.3,2003.3,0.98,2003.4,0.25,2003.7,0.4,2004.0,0.1,2004.3,0.3,2004.6,0.15,2004.9,0.35,2004.97,0.97,2005.05,0.3,2005.4,0.1,2005.7,0.3,2005.75,0.85,2005.85,0.2,2006.2,0.35,2006.5,0.1,2006.8,0.3,2007.1,0.15,2007.3,0.4,2007.34,0.79,2007.45,0.2,2007.8,0.3,2008.1,0.15,2008.25,0.3,2008.3,0.75,2008.4,0.2,2008.7,0.1,2009.0,0.05,2009.3,0.01,2011.6,0.01,2011.75,0.35,2011.85,0.05,2012.0,0.47,2012.1,0.1,2012.5,0.3,2012.6,0.05,2013.0,0.35,2013.1,0.08,2013.24,0.44,2013.4,0.1,2013.84,0.45,2013.95,0.12,2014.2,0.35,2014.43,0.46,2014.55,0.1,2014.8,0.4,2015.0,0.15,2015.3,0.53,2015.45,0.2,2015.6,0.57,2015.75,0.25,2016.0,0.5,2016.2,0.57,2016.35,0.3,2016.5,0.4,2016.66,0.62,2016.8,0.5,2016.9,0.52,2017.0,0.35];
const p4_lblue2 = [2009.3,0.01,2009.8,0.04,2010.5,0.03,2011,0.02,2012,0.03,2013,0.025,2014,0.03,2015,0.04,2015.5,0.05,2016,0.04,2016.5,0.06,2017,0.04];
const p4_red = [1980.1,0.0,1990.5,0.01,1991.5,0.03,1992,0.05,1992.5,0.1,1993,0.05,1993.5,0.15,1993.8,0.05,1994.12,0.33,1994.3,0.08,1994.6,0.2,1994.9,0.06,1995.19,0.45,1995.35,0.1,1995.7,0.2,1996.0,0.06,1996.3,0.18,1996.6,0.08,1996.9,0.25,1997.08,0.36,1997.2,0.1,1997.5,0.2,1997.8,0.06,1998.1,0.15,1998.4,0.05,1998.7,0.2,1999.0,0.08,1999.3,0.36,1999.5,0.1,1999.9,0.27,2000.1,0.08,2000.4,0.2,2000.7,0.06,2001.0,0.18,2001.3,0.07,2001.65,0.39,2001.8,0.1,2002.1,0.2,2002.4,0.05,2002.8,0.86,2002.9,0.1,2003.15,0.4,2003.3,0.08,2003.6,0.2,2003.9,0.06,2004.2,0.18,2004.45,0.31,2004.6,0.08,2004.9,0.2,2005.1,0.07,2005.32,0.34,2005.5,0.1,2005.8,0.2,2006.04,0.28,2006.2,0.08,2006.5,0.22,2006.7,0.06,2006.91,0.29,2007.1,0.1,2007.4,0.22,2007.6,0.08,2007.85,0.25,2008.07,0.22,2008.3,0.08,2008.6,0.15,2008.9,0.06,2009.17,0.53,2009.3,0.1,2009.5,0.3,2009.7,0.15,2009.95,0.4,2010.1,0.2,2010.27,0.79,2010.4,0.25,2010.67,0.38,2010.8,0.15,2010.96,0.45,2011.1,0.2,2011.3,0.82,2011.45,0.25,2011.67,0.33,2011.8,0.12,2011.95,0.3,2012.1,0.42,2012.2,0.15,2012.34,0.56,2012.5,0.2,2012.68,0.22,2012.8,0.1,2012.97,0.4,2013.1,0.2,2013.2,0.64,2013.35,0.15,2013.55,0.3,2013.7,0.12,2013.84,0.45,2014.0,0.15,2014.13,0.3,2014.3,0.1,2014.42,0.22,2014.6,0.3,2014.75,0.12,2014.86,0.74,2015.0,0.2,2015.23,0.62,2015.4,0.15,2015.58,0.33,2015.7,0.1,2015.87,0.25,2016.0,0.08,2016.16,0.2,2016.3,0.1,2016.45,0.24,2016.6,0.12,2016.8,0.3,2016.9,0.15,2017.0,0.1];

// zero baselines (overlapping near-zero series)
const p1_base = [1979.13,0.003,2017,0.003];
const p2_base = [1979.3,0.003,2017,0.003];
const p3_base = [1979.13,0.003,2017,0.003];
const p4_base = [1980.1,0.003,2017,0.003];

// ---------- build ----------
const COL = {blue:'#0072BD',orange:'#D95319',yellow:'#EDB120',purple:'#7E2F8E',green:'#77AC30',lblue:'#4DBEEE',red:'#A2142F',base:'#7a7346'};
const panels = [
  [['blue',p1_blue],['orange',p1_orange],['yellow',p1_yellow],['purple',p1_purple],['green',p1_green],['lblue',p1_lblue],['red',p1_red],['green',p1_green2],['purple',p1_purple2],['base',p1_base]],
  [['blue',p2_blue],['orange',p2_orange],['yellow',p2_yellow],['purple',p2_purple],['green',p2_green],['lblue',p2_lblue],['red',p2_red],['purple',p2_purple2],['base',p2_base]],
  [['blue',p3_blue],['orange',p3_orange],['yellow',p3_yellow],['purple',p3_purple],['green',p3_green],['lblue',p3_lblue],['red',p3_red],['purple',p3_purple2],['green',p3_green2],['base',p3_base]],
  [['lblue',p4_lblue],['blue',p4_blue],['orange',p4_orange],['yellow',p4_yellow],['red',p4_red],['purple',p4_purple],['green',p4_green],['lblue',p4_lblue2],['base',p4_base]]
];
const toPairs = a => { const r = []; for (let i = 0; i < a.length; i += 2) r.push([a[i], a[i+1]]); return r; };

const gridPos = [[43.5,35.5],[593.5,35.5],[43.5,405],[593.5,405]];
const GW = 461, GH = 292.8;
const FONT = 'Liberation Sans, Arial, Helvetica, sans-serif';

const option = {animation:false, backgroundColor:'#fff', grid:[], xAxis:[], yAxis:[], series:[], title:[]};
gridPos.forEach((p, k) => {
  option.grid.push({left:p[0], top:p[1], width:GW, height:GH, containLabel:false});
  option.title.push({text:titles[k], left:p[0] + GW/2, top:p[1] - 25, textAlign:'center', padding:0,
    textStyle:{fontFamily:FONT, fontSize:20, fontWeight:'bold', color:'#000'}});
  const axLine = {show:true, lineStyle:{color:'#000', width:1.3}};
  const tick = {show:true, inside:true, length:5, lineStyle:{color:'#000', width:1}};
  option.xAxis.push({type:'value', gridIndex:k, min:1978, max:2018, interval:10, position:'bottom',
    axisLine:axLine, axisTick:tick, splitLine:{show:false},
    axisLabel:{show:true, margin:15, fontFamily:FONT, fontSize:17, color:'#000', showMaxLabel:true, showMinLabel:true,
      formatter: v => { const i = xTickValues.indexOf(v); return i >= 0 ? xTickLabels[i] : ''; }}});
  option.xAxis.push({type:'value', gridIndex:k, min:1978, max:2018, interval:10, position:'top',
    axisLine:axLine, axisTick:tick, splitLine:{show:false}, axisLabel:{show:false}});
  option.yAxis.push({type:'value', gridIndex:k, min:0, max:1, interval:0.2, position:'left',
    axisLine:axLine, axisTick:tick, splitLine:{show:false},
    axisLabel:{show:true, margin:6, fontFamily:FONT, fontSize:17, color:'#000'}});
  option.yAxis.push({type:'value', gridIndex:k, min:0, max:1, interval:0.2, position:'right',
    axisLine:axLine, axisTick:tick, splitLine:{show:false}, axisLabel:{show:false}});
  // recession bands
  option.series.push({type:'line', xAxisIndex:2*k, yAxisIndex:2*k, data:[], z:1, silent:true,
    markArea:{silent:true, itemStyle:{color:'#d9d9d9'}, data: recessions.map(r => [{xAxis:r[0]},{xAxis:r[1]}])}});
  panels[k].forEach((s, j) => {
    const c = COL[s[0]];
    option.series.push({type:'line', xAxisIndex:2*k, yAxisIndex:2*k, data:toPairs(s[1]),
      showSymbol:false, symbol:'none', silent:true, z:2 + j,
      lineStyle:{color:c, width:2.2}, itemStyle:{color:c}});
  });
});

const chart = echarts.init(document.getElementById('c'), null, {renderer:'canvas'});
chart.setOption(option);
</script>
</body></html>
